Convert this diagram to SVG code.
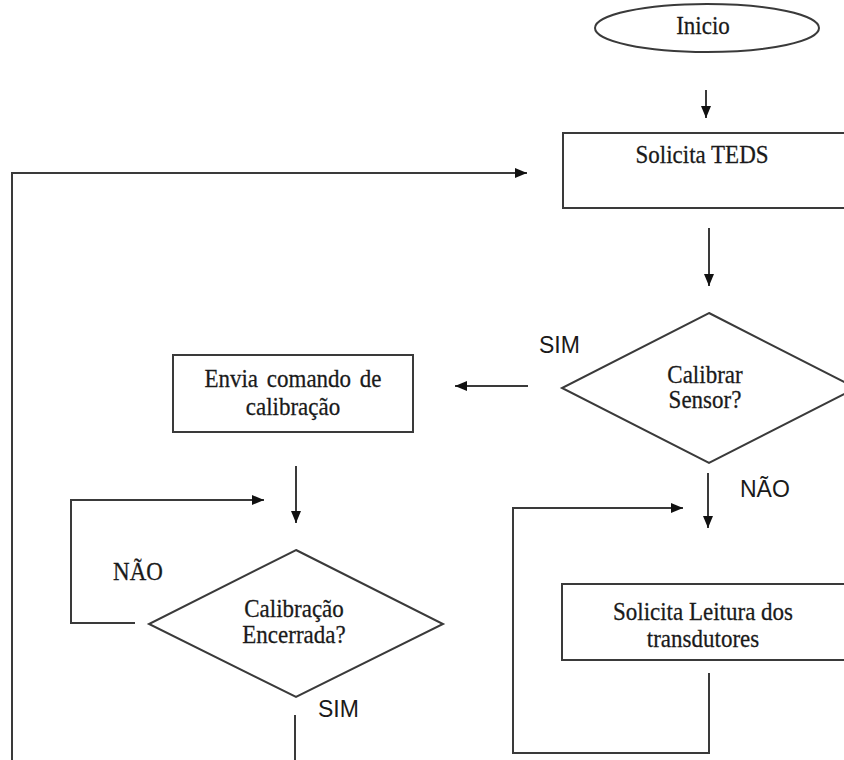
<svg xmlns="http://www.w3.org/2000/svg" width="844" height="760" viewBox="0 0 844 760">
<style>
.shape{fill:#fff;stroke:#3a3a3a;stroke-width:2}
.ln{fill:none;stroke:#3a3a3a;stroke-width:2}
.t{font-family:"Liberation Serif","Times New Roman",serif;font-size:23px;fill:#1a1a1a;stroke:#1a1a1a;stroke-width:0.25;text-anchor:middle}
.s{font-family:"Liberation Sans",Arial,sans-serif;font-size:23px;fill:#1a1a1a}
</style>
<defs>
<marker id="ah" viewBox="0 0 12 10" refX="12" refY="5" markerWidth="12" markerHeight="10" markerUnits="userSpaceOnUse" orient="auto">
<path d="M0,0 L12,5 L0,10 Z" fill="#111"/>
</marker>
</defs>
<rect width="844" height="760" fill="#fff"/>
<g id="connectors">
<line class="ln" x1="706" y1="90" x2="706" y2="118" marker-end="url(#ah)"/>
<line class="ln" x1="709" y1="228" x2="709" y2="286" marker-end="url(#ah)"/>
<line class="ln" x1="528" y1="386" x2="455" y2="386" marker-end="url(#ah)"/>
<line class="ln" x1="296" y1="466" x2="296" y2="523" marker-end="url(#ah)"/>
<polyline class="ln" points="135,623 71,623 71,500 264,500" marker-end="url(#ah)"/>
<line class="ln" x1="295" y1="715" x2="295" y2="760"/>
<polyline class="ln" points="12,760 12,173 527,173" marker-end="url(#ah)"/>
<line class="ln" x1="708" y1="473" x2="708" y2="528" marker-end="url(#ah)"/>
<polyline class="ln" points="709,673 709,753 513,753 513,508 683,508" marker-end="url(#ah)"/>
</g>
<g id="inicio">
<ellipse class="shape" cx="707" cy="28" rx="112" ry="24"/>
<text class="t" transform="translate(703,34) scale(1,1.05)">Inicio</text>
</g>
<g id="solicita-teds">
<rect class="shape" x="563" y="133" width="290" height="75"/>
<text class="t" transform="translate(702,163) scale(1,1.05)">Solicita TEDS</text>
</g>
<g id="calibrar-sensor">
<polygon class="shape" points="709,313 856,388 709,463 562,388"/>
<text class="t" transform="translate(705,383) scale(1,1.05)">Calibrar</text>
<text class="t" transform="translate(705,408) scale(1,1.05)">Sensor?</text>
</g>
<g id="envia-comando">
<rect class="shape" x="173" y="355" width="240" height="77"/>
<text class="t" transform="translate(293,387) scale(1,1.05)" word-spacing="3">Envia comando de</text>
<text class="t" transform="translate(293,415) scale(1,1.05)">calibração</text>
</g>
<g id="calibracao-encerrada">
<polygon class="shape" points="296,550 443,624 296,697 149,624"/>
<text class="t" transform="translate(294,617) scale(1,1.05)">Calibração</text>
<text class="t" transform="translate(294,643) scale(1,1.05)">Encerrada?</text>
</g>
<g id="solicita-leitura">
<rect class="shape" x="562" y="584" width="290" height="76"/>
<text class="t" transform="translate(703,620) scale(1,1.05)">Solicita Leitura dos</text>
<text class="t" transform="translate(703,647) scale(1,1.05)">transdutores</text>
</g>
<g id="labels">
<text class="s" x="539" y="353">SIM</text>
<text class="t" transform="translate(138,580) scale(1,1.05)">NÃO</text>
<text class="s" x="740" y="497">NÃO</text>
<text class="s" x="318" y="717">SIM</text>
</g>
</svg>
